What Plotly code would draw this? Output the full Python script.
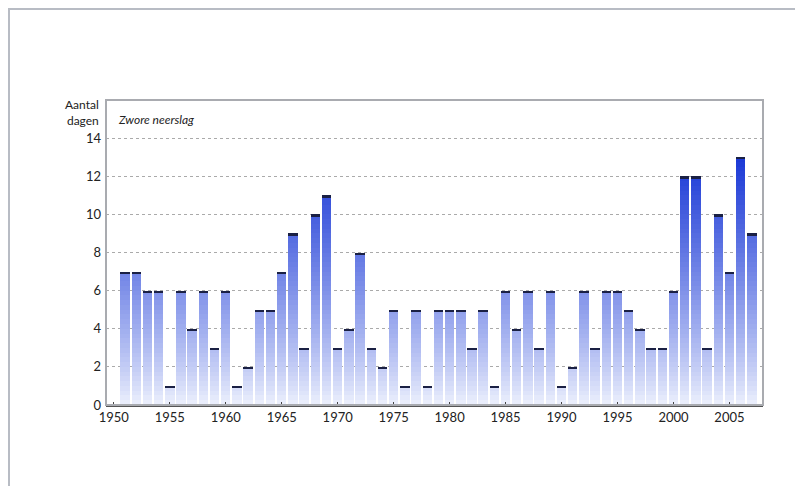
import plotly.graph_objects as go

years = list(range(1951, 2008))
days = [7, 7, 6, 6, 1, 6, 4, 6, 3, 6,
        1, 2, 5, 5, 7, 9, 3, 10, 11, 3,
        4, 8, 3, 2, 5, 1, 5, 1, 5, 5,
        5, 3, 5, 1, 6, 4, 6, 3, 6, 1,
        2, 6, 3, 6, 6, 5, 4, 3, 3, 6,
        12, 12, 3, 10, 7, 13, 9]
y_ticks = [0, 2, 4, 6, 8, 10, 12, 14]
x_ticks = [1950, 1955, 1960, 1965, 1970, 1975, 1980, 1985, 1990, 1995, 2000, 2005]

OFF = 8  # page body margin
W, H = 803, 486
L, T = 106 - OFF, 100 - OFF
R = W - (763 - OFF)
B = H - (405 - OFF)
pw, ph = W - L - R, H - T - B

lo = (238, 242, 253)
hi = (26, 56, 214)


def col(v):
    t = max(0.0, min(1.0, v / 13.0))
    t = t ** 0.85
    c = [round(lo[i] + (hi[i] - lo[i]) * t) for i in range(3)]
    return f"rgb({c[0]},{c[1]},{c[2]})"


fig = go.Figure()
step = 0.25
maxv = max(days)
n = int(maxv / step)
bw = 0.84
for k in range(n, 0, -1):
    cap = k * step
    ys = [min(v, cap) for v in days]
    fig.add_trace(go.Bar(x=years, y=ys, width=bw, marker=dict(color=col(cap - step / 2), line=dict(width=0)),
                         hoverinfo="skip", showlegend=False))

# dark caps on top of bars
capw = 0.12
fig.add_trace(go.Bar(x=years, y=[capw] * len(days), base=[v - capw for v in days], width=bw,
                     marker=dict(color="#1a2044", line=dict(width=0)), showlegend=False, hoverinfo="skip"))


def px(xp):
    return (xp - OFF - L) / pw


def py(yp):
    return (H - B - (yp - OFF)) / ph


shapes = [
    dict(type="rect", xref="paper", yref="paper", x0=px(9), x1=px(830), y0=py(9), y1=py(540),
         fillcolor="white", line=dict(color="#b8bcc4", width=2), layer="below"),
    dict(type="rect", xref="paper", yref="paper", x0=0, x1=1, y0=0, y1=1,
         line=dict(color="#a9abb0", width=2), layer="above"),
]

fig.update_layout(
    width=W, height=H,
    margin=dict(l=L, r=R, t=T, b=B),
    paper_bgcolor="#f2f6fb", plot_bgcolor="white",
    barmode="overlay", bargap=0,
    shapes=shapes,
    font=dict(family="Lato, Open Sans, sans-serif", size=13, color="#222"),
    xaxis=dict(range=[1949.3, 2008.0], tickvals=x_ticks, ticks="inside", ticklen=3, tickcolor="#444",
               showline=True, linecolor="#555", linewidth=1.5, showgrid=False, zeroline=False,
               automargin=False, tickfont=dict(size=13, color="#222")),
    yaxis=dict(range=[0, 16], tickvals=y_ticks, showgrid=True, gridcolor="#aaa", griddash="dot", gridwidth=1,
               zeroline=False, showline=False, ticks="", ticklabelstandoff=4, automargin=False,
               tickfont=dict(size=13, color="#222")),
    annotations=[
        dict(text="Aantal<br>dagen", xref="paper", yref="paper", x=px(101), y=py(95), xanchor="right",
             yanchor="top", showarrow=False, align="right", font=dict(size=12, color="#222")),
        dict(text="<i>Zwore neerslag</i>", xref="paper", yref="paper", x=px(116), y=py(119), xanchor="left",
             yanchor="middle", showarrow=False, font=dict(size=12, color="#222")),
    ],
)

fig.write_html("out.html")
